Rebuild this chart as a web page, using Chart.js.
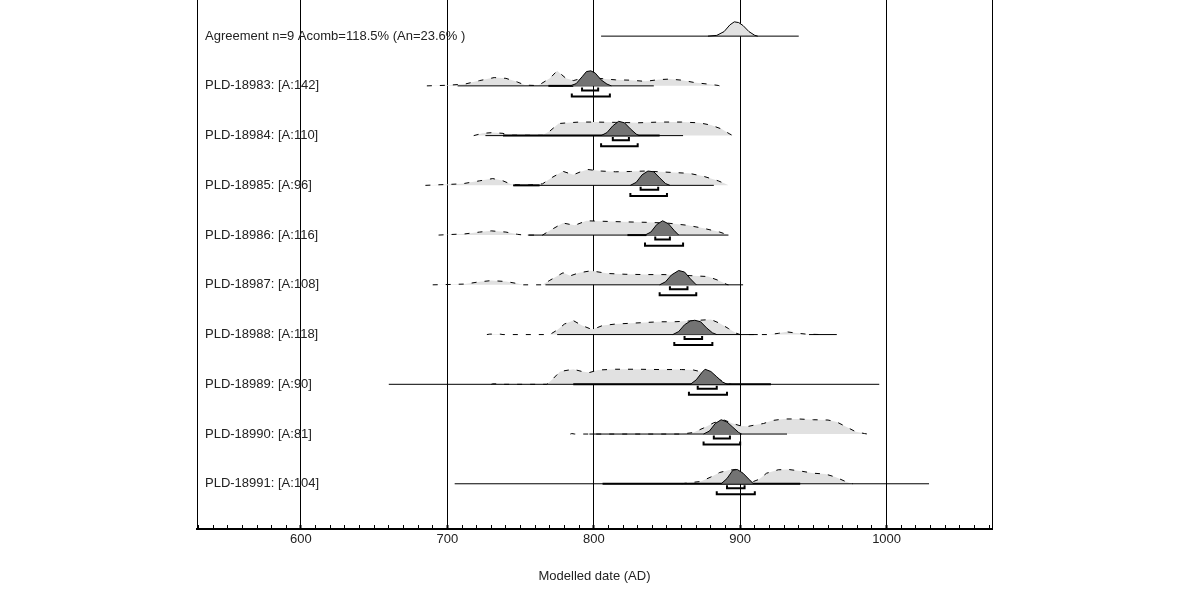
<!DOCTYPE html>
<html lang="en">
<head>
  <meta charset="UTF-8">
  <title>Modelled date (AD)</title>
  <script src="https://cdn.jsdelivr.net/npm/chart.js"></script>
  <style>
    body {
      margin: 0;
      background: #fff;
    }

    #wrap {
      width: 1190px;
      height: 609px;
    }
  </style>
</head>
<body>

  <div id="wrap">
    <canvas id="oxcal" width="1190" height="609"></canvas>
  </div>

  <script>
    // row labels, top to bottom
    const rowLabels = [
      'Agreement n=9 Acomb=118.5% (An=23.6% )',
      'PLD-18983: [A:142]',
      'PLD-18984: [A:110]',
      'PLD-18985: [A:96]',
      'PLD-18986: [A:116]',
      'PLD-18987: [A:108]',
      'PLD-18988: [A:118]',
      'PLD-18989: [A:90]',
      'PLD-18990: [A:81]',
      'PLD-18991: [A:104]'
    ];

    // unmodelled (light) distributions: [year AD, relative probability]
    const likelihoods = [
      [[878,0],[884,0.05],[889,0.3],[893,0.75],[896,0.95],[899,0.9],[902,0.7],[906,0.3],[910,0.05],[912,0]],
      [[686,0],[700,0.04],[712,0.12],[722,0.35],[732,0.55],[740,0.5],[748,0.25],[753,0.05],[762,0.02],[770,0.5],[775,1.0],[781,0.5],[786,0.35],[792,0.5],[800,0.55],[808,0.45],[815,0.4],[825,0.38],[835,0.3],[845,0.42],[852,0.45],[860,0.38],[870,0.2],[878,0.12],[885,0.03],[886,0]],
      [[718,0],[724,0.15],[731,0.2],[738,0.15],[742,0.03],[765,0.02],[770,0.3],[776,0.8],[782,0.85],[790,0.9],[800,0.9],[815,0.88],[830,0.85],[845,0.9],[860,0.9],[872,0.85],[880,0.7],[887,0.45],[893,0.1],[895,0]],
      [[685,0],[695,0.04],[710,0.1],[722,0.3],[731,0.45],[738,0.3],[744,0.05],[755,0.02],[765,0.1],[772,0.55],[779,0.93],[786,0.7],[791,0.9],[796,1.05],[805,0.95],[815,0.9],[825,0.92],[835,0.95],[845,0.9],[855,0.85],[865,0.8],[875,0.6],[885,0.3],[891,0.05],[892,0]],
      [[694,0],[700,0.03],[712,0.08],[722,0.2],[730,0.28],[740,0.2],[748,0.05],[752,0],[765,0],[770,0.3],[779,0.8],[787,0.65],[795,0.95],[805,0.92],[820,0.88],[835,0.85],[850,0.8],[864,0.65],[875,0.45],[886,0.2],[892,0]],
      [[690,0],[700,0.02],[712,0.05],[722,0.2],[730,0.28],[740,0.22],[748,0.08],[752,0],[765,0],[770,0.3],[779,0.8],[784,0.6],[790,0.8],[798,0.93],[810,0.75],[822,0.7],[835,0.68],[848,0.68],[858,0.65],[868,0.6],[878,0.55],[885,0.3],[891,0.02],[892,0]],
      [[727,0],[729,0.03],[736,0.03],[738,0],[770,0],[775,0.3],[780,0.7],[786,0.93],[792,0.6],[799,0.33],[806,0.6],[815,0.7],[825,0.75],[835,0.8],[845,0.85],[855,0.85],[865,0.9],[872,0.95],[880,1.0],[886,0.75],[892,0.4],[897,0.1],[900,0],[920,0],[926,0.08],[932,0.18],[938,0.1],[945,0.03],[955,0]],
      [[730,0],[731,0.03],[737,0.03],[738,0],[768,0],[772,0.35],[777,0.85],[786,1.0],[792,0.85],[797,0.78],[803,0.95],[815,1.0],[830,1.0],[845,0.98],[860,0.98],[868,0.95],[875,0.8],[882,0.5],[888,0.2],[892,0.03],[894,0]],
      [[784,0],[785,0.03],[787,0],[860,0],[868,0.1],[875,0.4],[882,0.75],[889,0.93],[895,0.7],[900,0.55],[905,0.5],[910,0.6],[916,0.7],[922,0.9],[930,1.0],[940,1.0],[950,0.95],[960,0.93],[966,0.8],[972,0.5],[979,0.15],[985,0.03],[987,0]],
      [[860,0],[866,0.08],[873,0.15],[880,0.45],[886,0.75],[892,0.9],[897,0.95],[903,0.5],[909,0.15],[913,0.3],[918,0.7],[926,0.93],[933,0.95],[941,0.85],[950,0.7],[958,0.65],[965,0.45],[972,0.15],[976,0.02],[977,0]]
    ];

    // modelled (dark) distributions
    const posteriors = [
      [],
      [[784,0],[788,0.15],[792,0.6],[795,0.95],[798,1.0],[801,0.85],[805,0.4],[809,0.12],[812,0]],
      [[805,0],[809,0.2],[813,0.65],[817,0.95],[821,0.85],[825,0.45],[829,0.1],[831,0]],
      [[825,0],[829,0.2],[833,0.7],[837,0.95],[841,0.9],[845,0.5],[849,0.12],[852,0]],
      [[835,0],[839,0.2],[843,0.7],[847,0.95],[851,0.75],[855,0.3],[858,0]],
      [[845,0],[849,0.2],[853,0.65],[858,0.95],[862,0.85],[866,0.4],[870,0]],
      [[854,0],[858,0.2],[862,0.65],[866,0.9],[869,0.95],[873,0.85],[877,0.45],[881,0.12],[884,0]],
      [[866,0],[870,0.3],[874,0.8],[876,1.0],[880,0.85],[884,0.5],[888,0.15],[891,0]],
      [[875,0],[879,0.2],[883,0.7],[887,0.95],[891,0.8],[895,0.45],[899,0.1],[901,0]],
      [[887,0],[891,0.35],[895,0.9],[898,0.95],[902,0.7],[906,0.3],[909,0]]
    ];

    // horizontal range lines under each row
    const spans = [
      [[805, 940]],
      [[707, 841]],
      [[726, 861]],
      [[745, 882]],
      [[755, 892]],
      [[767, 902]],
      [[775, 912], [947, 966]],
      [[660, 995]],
      [[797, 932]],
      [[705, 1029]]
    ];
    const thickSpans = [
      [], [[769, 786]], [[738, 845]], [[745, 763]], [[823, 836]],
      [], [], [[786, 921]], [], [[806, 941]]
    ];

    // 68.2% and 95.4% ranges
    const range68 = [null, [792,803], [813,824], [832,844], [842,852], [852,864], [862,874], [871,884], [882,893], [891,903]];
    const range95 = [null, [785,811], [805,830], [825,850], [835,861], [845,870], [855,881], [865,891], [875,900], [884,910]];

    const xTicks = [600, 700, 800, 900, 1000];

    const ROW_PX = 49.55;
    const PEAK = 15 / ROW_PX;
    const FONT = 'Liberation Sans, Arial, sans-serif';

    const datasets = [];
    rowLabels.forEach((lab, i) => {
      datasets.push({
        data: likelihoods[i].map(([x, p]) => ({ x: x, y: i - p * PEAK })),
        fill: { value: i },
        backgroundColor: '#e1e1e1',
        borderColor: '#000',
        borderWidth: 1,
        borderDash: i === 0 ? [] : [5, 8],
        order: 5
      });
      spans[i].forEach(([a, b]) => {
        datasets.push({ data: [{ x: a, y: i }, { x: b, y: i }], borderColor: '#000', borderWidth: 1, fill: false, order: 4 });
      });
      thickSpans[i].forEach(([a, b]) => {
        datasets.push({ data: [{ x: a, y: i }, { x: b, y: i }], borderColor: '#000', borderWidth: 2, fill: false, order: 4 });
      });
      if (posteriors[i].length) {
        datasets.push({
          data: posteriors[i].map(([x, p]) => ({ x: x, y: i - p * PEAK })),
          fill: { value: i },
          backgroundColor: '#737373',
          borderColor: '#000',
          borderWidth: 1,
          order: 2
        });
      }
      [[range68[i], 4.5], [range95[i], 10.5]].forEach(([r, off]) => {
        if (!r) return;
        const y = i + off / ROW_PX;
        const t = 3 / ROW_PX;
        datasets.push({
          data: [{ x: r[0], y: y - t }, { x: r[0], y: y }, { x: r[1], y: y }, { x: r[1], y: y - t }],
          borderColor: '#000',
          borderWidth: 2,
          fill: false,
          order: 1
        });
      });
    });

    const yMin = -36 / ROW_PX;
    const yMax = (527 - 36) / ROW_PX;

    new Chart(document.getElementById('oxcal'), {
      type: 'line',
      data: { datasets: datasets },
      options: {
        responsive: false,
        animation: false,
        layout: { padding: { left: 197, right: 198, top: 0, bottom: 0 } },
        elements: {
          point: { radius: 0 },
          line: { tension: 0 }
        },
        plugins: {
          legend: { display: false },
          tooltip: { enabled: false }
        },
        scales: {
          x: {
            type: 'linear',
            min: 529,
            max: 1072,
            z: 1,
            afterBuildTicks: s => {
              const t = [{ value: 529 }];
              for (let v = 530; v <= 1070; v += 10) t.push({ value: v });
              t.push({ value: 1072 });
              s.ticks = t;
            },
            afterFit: s => {
              s.height = 80;
              s.paddingLeft = 0;
              s.paddingRight = 0;
            },
            grid: {
              color: c => (xTicks.includes(c.tick.value) || c.tick.value === 529 || c.tick.value === 1072) ? '#000' : 'rgba(0,0,0,0)',
              lineWidth: 1,
              tickColor: '#000',
              tickWidth: c => xTicks.includes(c.tick.value) ? 2 : 1,
              tickLength: -4
            },
            border: { display: true, color: '#000', width: 2 },
            ticks: {
              autoSkip: false,
              maxRotation: 0,
              padding: 7,
              color: '#222',
              font: { family: FONT, size: 13 },
              callback: v => xTicks.includes(v) ? String(v) : ''
            },
            title: {
              display: true,
              text: 'Modelled date (AD)',
              color: '#222',
              font: { family: FONT, size: 13 },
              padding: { top: 0, bottom: 25 }
            }
          },
          y: {
            type: 'linear',
            reverse: true,
            min: yMin,
            max: yMax,
            afterBuildTicks: s => {
              s.ticks = rowLabels.map((_, i) => ({ value: i }));
            },
            afterFit: s => {
              s.width = 0;
              s.paddingTop = 0;
              s.paddingBottom = 0;
            },
            grid: { display: false, drawTicks: false },
            border: { display: false },
            ticks: {
              mirror: true,
              padding: 8,
              color: '#222',
              font: { family: FONT, size: 13 },
              callback: v => rowLabels[v]
            }
          }
        }
      }
    });
  </script>

</body>
</html>
